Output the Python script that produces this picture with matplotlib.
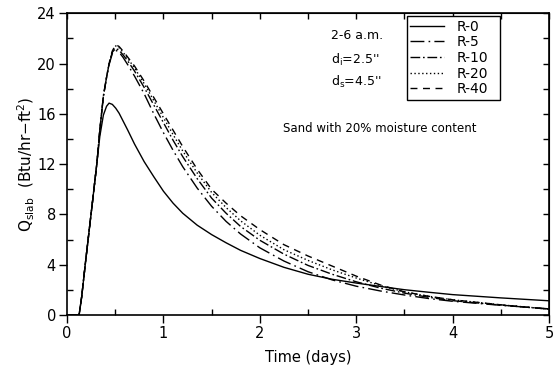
import matplotlib
matplotlib.use("Agg")
import matplotlib.pyplot as plt
from matplotlib.ticker import MultipleLocator

# Time (days)
t = [0, 0.125, 0.152, 0.19, 0.23, 0.27, 0.31, 0.34, 0.377, 0.41, 0.436, 0.47, 0.505,
     0.54, 0.58, 0.63, 0.70, 0.8, 0.9, 1.0, 1.1, 1.2, 1.35, 1.5, 1.65, 1.8, 2.0,
     2.25, 2.5, 2.75, 3.0, 3.25, 3.5, 3.75, 4.0, 4.5, 5.0]

r0 = [0, 0, 1.46, 4.1, 6.76, 9.4, 12.1, 14.2, 15.9, 16.6, 16.85, 16.75, 16.45,
      16.05, 15.45, 14.7, 13.6, 12.2, 11.0, 9.85, 8.9, 8.1, 7.15, 6.4, 5.75, 5.15, 4.5,
      3.8, 3.25, 2.85, 2.55, 2.28, 2.02, 1.82, 1.63, 1.37, 1.14]
r5 = [0, 0, 1.46, 4.1, 6.76, 9.4, 12.1, 14.7, 17.4, 18.9, 19.9, 20.8, 21.05,
      20.9, 20.5, 19.9, 19.0, 17.6, 16.0, 14.5, 13.1, 11.8, 10.1, 8.65, 7.45, 6.45, 5.35,
      4.3, 3.45, 2.8, 2.3, 1.92, 1.6, 1.32, 1.1, 0.78, 0.5]
r10 = [0, 0, 1.46, 4.1, 6.76, 9.4, 12.1, 14.7, 17.4, 18.9, 19.95, 20.9, 21.2,
       21.05, 20.7, 20.2, 19.4, 18.1, 16.7, 15.3, 13.9, 12.6, 10.85, 9.3, 8.1, 7.05, 5.95,
       4.85, 3.95, 3.25, 2.65, 2.15, 1.75, 1.42, 1.15, 0.8, 0.48]
r20 = [0, 0, 1.46, 4.1, 6.76, 9.4, 12.1, 14.7, 17.4, 18.9, 20.0, 20.95, 21.4,
       21.25, 20.9, 20.4, 19.65, 18.4, 17.05, 15.7, 14.35, 13.05, 11.3, 9.75, 8.55, 7.5, 6.35,
       5.2, 4.35, 3.6, 2.95, 2.35, 1.85, 1.5, 1.22, 0.82, 0.48]
r40 = [0, 0, 1.46, 4.1, 6.76, 9.4, 12.1, 14.7, 17.4, 18.9, 20.0, 21.0, 21.5,
       21.35, 21.0, 20.5, 19.8, 18.6, 17.3, 16.0, 14.7, 13.4, 11.6, 10.0, 8.9, 7.9, 6.8,
       5.6, 4.7, 3.9, 3.1, 2.4, 1.85, 1.5, 1.22, 0.82, 0.47]

labels = ["R-0", "R-5", "R-10", "R-20", "R-40"]
styles = ["-", (0, (10, 3, 1.2, 3)), (0, (7, 2, 1.2, 2)), (0, (1, 1.8)), (0, (5, 4))]

fig = plt.figure(figsize=(5.54, 3.66), dpi=100)
ax = fig.add_axes([0.121, 0.139, 0.870, 0.825])

for y, lab, ls in zip([r0, r5, r10, r20, r40], labels, styles):
    ax.plot(t, y, color="black", lw=1.0, linestyle=ls, label=lab)

ax.set_xlim(0, 5)
ax.set_ylim(0, 24)
ax.xaxis.set_major_locator(MultipleLocator(1))
ax.xaxis.set_minor_locator(MultipleLocator(0.5))
ax.yaxis.set_major_locator(MultipleLocator(4))
ax.yaxis.set_minor_locator(MultipleLocator(2))
ax.tick_params(which="major", direction="out", length=6, width=1.0, labelsize=10.5,
               colors="black", pad=2)
ax.tick_params(which="minor", direction="in", length=4, width=1.0)
for s in ax.spines.values():
    s.set_linewidth(1.2)

top = ax.secondary_xaxis("top")
top.xaxis.set_major_locator(MultipleLocator(0.5))
top.tick_params(direction="in", length=4, width=1.0, labeltop=False)
right = ax.secondary_yaxis("right")
right.yaxis.set_major_locator(MultipleLocator(2))
right.tick_params(direction="in", length=4, width=1.0, labelright=False)

ax.set_xlabel("Time (days)", fontsize=10.5, labelpad=6)
ax.set_ylabel(r"Q$_{\mathrm{slab}}$  (Btu/hr$-$ft$^2$)", fontsize=11, labelpad=0)

ax.text(2.74, 22.2, "2-6 a.m.", fontsize=9, va="center")
ax.text(2.74, 20.3, r"d$_{\mathrm{i}}$=2.5''", fontsize=9, va="center")
ax.text(2.74, 18.5, r"d$_{\mathrm{s}}$=4.5''", fontsize=9, va="center")
ax.text(3.24, 14.85, "Sand with 20% moisture content", fontsize=8.5, ha="center", va="center")

leg = ax.legend(loc="upper left", bbox_to_anchor=(0.705, 0.70, 0.193, 0.29),
                mode="expand", fontsize=10,
                handlelength=2.4, labelspacing=0.12, borderpad=0.25, handletextpad=0.9,
                fancybox=False, framealpha=1, edgecolor="black", borderaxespad=0)
leg.get_frame().set_linewidth(1.0)

fig.savefig("out.png", dpi=100)
